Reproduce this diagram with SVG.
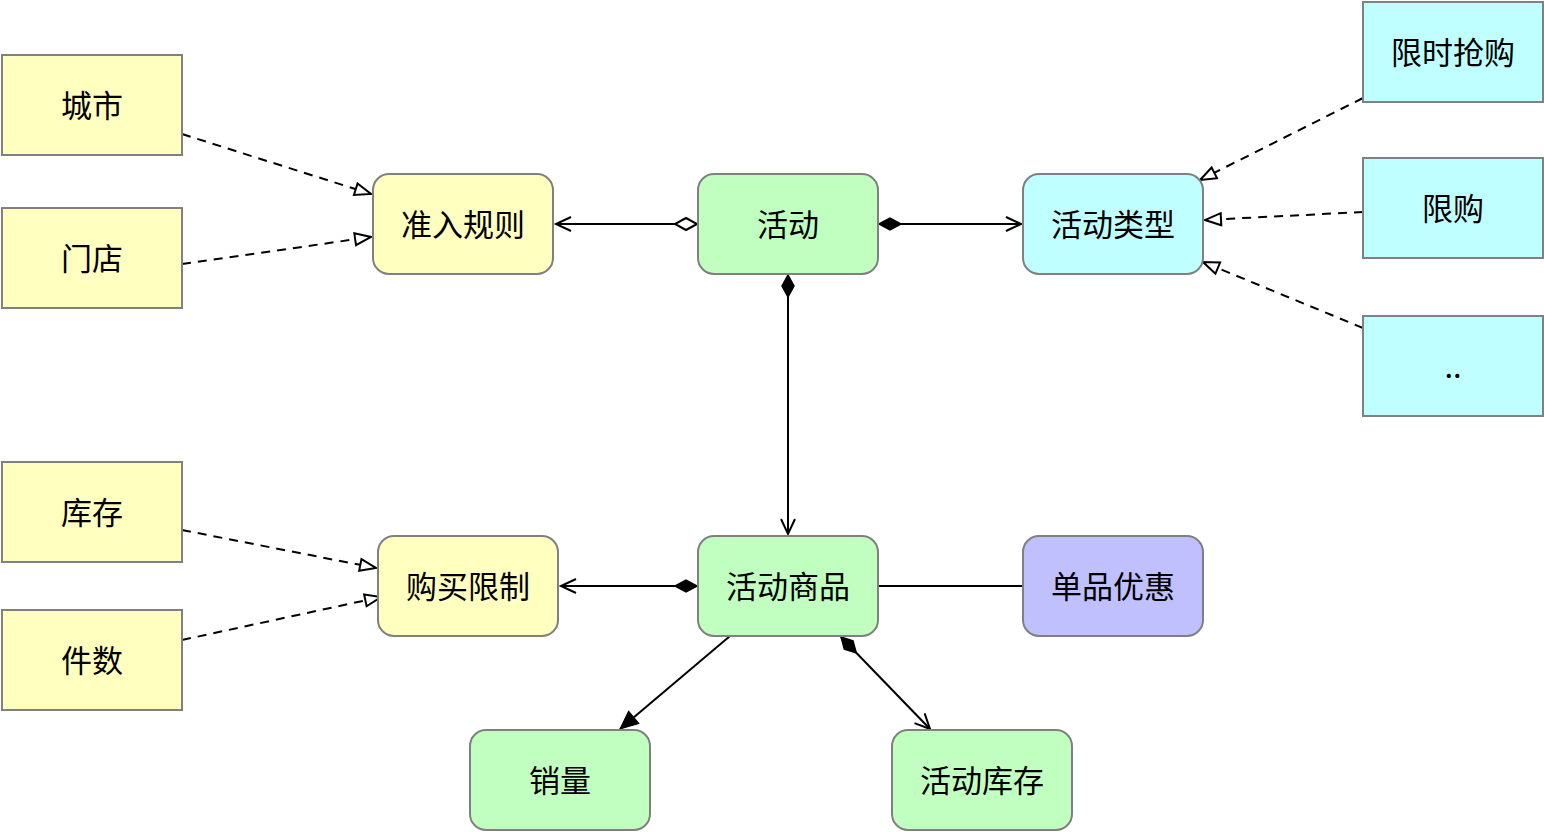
<svg xmlns="http://www.w3.org/2000/svg" width="1544" height="832" viewBox="0 0 1544 832">
<style>
.n{stroke:#808080;stroke-width:2}
.y{fill:#ffffc0}.g{fill:#c0ffc0}.c{fill:#c0ffff}.p{fill:#c0c0ff}
.t{font-family:"Noto Sans CJK SC","Liberation Sans",sans-serif;font-size:31px;fill:#000;text-anchor:middle;dominant-baseline:central}
.e{fill:none;stroke:#000;stroke-width:2}
.d{stroke-dasharray:9,7}
</style>
<defs>
<marker id="tri" markerUnits="userSpaceOnUse" markerWidth="24" markerHeight="20" refX="17" refY="7" orient="auto" overflow="visible"><path d="M1,1 L17,7 L1,13 Z" fill="#fff" stroke="#000" stroke-width="2"/></marker>
<marker id="open" markerUnits="userSpaceOnUse" markerWidth="24" markerHeight="20" refX="16" refY="8" orient="auto" overflow="visible"><path d="M1,1 L16,8 L1,15" fill="none" stroke="#000" stroke-width="2"/></marker>
<marker id="solid" markerUnits="userSpaceOnUse" markerWidth="24" markerHeight="20" refX="18" refY="8" orient="auto" overflow="visible"><path d="M0,0 L18,8 L0,16 Z" fill="#000" stroke="#000" stroke-width="1"/></marker>
<marker id="dia" markerUnits="userSpaceOnUse" markerWidth="28" markerHeight="16" refX="1" refY="7" orient="auto" overflow="visible"><path d="M1,7 L12,1 L23,7 L12,13 Z" fill="#000" stroke="#000" stroke-width="1.5"/></marker>
<marker id="odia" markerUnits="userSpaceOnUse" markerWidth="28" markerHeight="16" refX="1" refY="7" orient="auto" overflow="visible"><path d="M1,7 L12,1 L23,7 L12,13 Z" fill="#fff" stroke="#000" stroke-width="2"/></marker>
</defs>
<g id="edges">
<path class="e d" d="M182,134 L371,194" marker-end="url(#tri)"/>
<path class="e d" d="M182,264 L371,237" marker-end="url(#tri)"/>
<path class="e d" d="M1363,98 L1200,180" marker-end="url(#tri)"/>
<path class="e d" d="M1363,212 L1205,220" marker-end="url(#tri)"/>
<path class="e d" d="M1363,328 L1203,262" marker-end="url(#tri)"/>
<path class="e d" d="M182,530 L376,568" marker-end="url(#tri)"/>
<path class="e d" d="M182,640 L381,597" marker-end="url(#tri)"/>
<path class="e" d="M697,224 L556,224" marker-start="url(#odia)" marker-end="url(#open)"/>
<path class="e" d="M879,224 L1021,224" marker-start="url(#dia)" marker-end="url(#open)"/>
<path class="e" d="M788,275 L788,534" marker-start="url(#dia)" marker-end="url(#open)"/>
<path class="e" d="M697,586 L561,586" marker-start="url(#dia)" marker-end="url(#open)"/>
<path class="e" d="M878,586 L1023,586"/>
<path class="e" d="M730,636 L620,729" marker-end="url(#solid)"/>
<path class="e" d="M841,637 L930,729" marker-start="url(#dia)" marker-end="url(#open)"/>
</g>
<g id="n1"><rect class="n y" x="2" y="55" width="180" height="100"/><text class="t" x="92" y="103">城市</text></g>
<g id="n2"><rect class="n y" x="2" y="208" width="180" height="100"/><text class="t" x="92" y="256">门店</text></g>
<g id="n3"><rect class="n y" x="2" y="462" width="180" height="100"/><text class="t" x="92" y="510">库存</text></g>
<g id="n4"><rect class="n y" x="2" y="610" width="180" height="100"/><text class="t" x="92" y="658">件数</text></g>
<g id="n5"><rect class="n y" x="373" y="174" width="180" height="100" rx="16"/><text class="t" x="463" y="222">准入规则</text></g>
<g id="n6"><rect class="n g" x="698" y="174" width="180" height="100" rx="16"/><text class="t" x="788" y="222">活动</text></g>
<g id="n7"><rect class="n c" x="1023" y="174" width="180" height="100" rx="16"/><text class="t" x="1113" y="222">活动类型</text></g>
<g id="n8"><rect class="n c" x="1363" y="2" width="180" height="100"/><text class="t" x="1453" y="50">限时抢购</text></g>
<g id="n9"><rect class="n c" x="1363" y="158" width="180" height="100"/><text class="t" x="1453" y="206">限购</text></g>
<g id="n10"><rect class="n c" x="1363" y="316" width="180" height="100"/><text class="t" x="1453" y="364">..</text></g>
<g id="n11"><rect class="n y" x="378" y="536" width="180" height="100" rx="16"/><text class="t" x="468" y="584">购买限制</text></g>
<g id="n12"><rect class="n g" x="698" y="536" width="180" height="100" rx="16"/><text class="t" x="788" y="584">活动商品</text></g>
<g id="n13"><rect class="n p" x="1023" y="536" width="180" height="100" rx="16"/><text class="t" x="1113" y="584">单品优惠</text></g>
<g id="n14"><rect class="n g" x="470" y="730" width="180" height="100" rx="16"/><text class="t" x="560" y="778">销量</text></g>
<g id="n15"><rect class="n g" x="892" y="730" width="180" height="100" rx="16"/><text class="t" x="982" y="778">活动库存</text></g>
</svg>
